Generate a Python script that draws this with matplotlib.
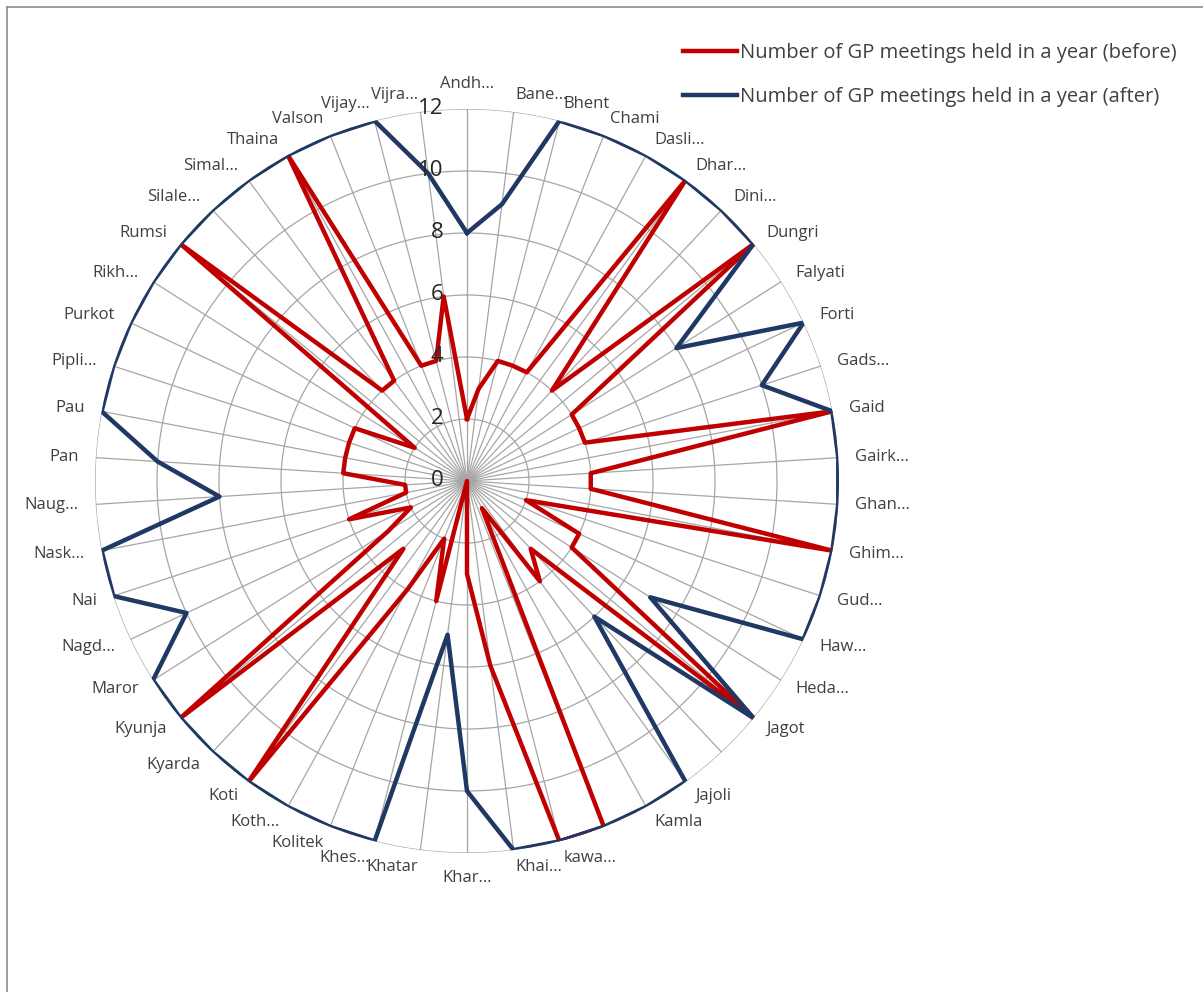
import numpy as np
import matplotlib
matplotlib.use("Agg")
import matplotlib.pyplot as plt
from matplotlib.lines import Line2D

plt.rcParams['font.family'] = ['Open Sans', 'DejaVu Sans']

# Gram panchayats (labels as truncated on the original chart, two are blank)
categories = ["Andh…", "Bane…", "Bhent", "Chami", "Dasli…", "Dhar…", "Dini…", "Dungri",
              "Falyati", "Forti", "Gads…", "Gaid", "Gairk…", "Ghan…", "Ghim…", "Gud…",
              "Haw…", "Heda…", "Jagot", "", "Jajoli", "Kamla", "", "kawa…", "Khai…",
              "Khar…", "Khatar", "Khes…", "Kolitek", "Koth…", "Koti", "Kyarda", "Kyunja",
              "Maror", "Nagd…", "Nai", "Nask…", "Naug…", "Pan", "Pau", "Pipli…", "Purkot",
              "Rikh…", "Rumsi", "Silale…", "Simal…", "Thaina", "Valson", "Vijay…", "Vijra…"]

meetings_before = [2, 3, 4, 4, 4, 12, 4, 12, 4, 4, 4, 12, 4, 4, 12, 2, 4, 4, 12, 3,
                   4, 1, 12, 12, 6, 3, 0, 4, 2, 4, 12, 3, 12, 3, 2, 4, 2, 2, 4, 4,
                   4, 4, 2, 12, 4, 4, 12, 4, 4, 6]
meetings_after = [8, 9, 12, 12, 12, 12, 12, 12, 8, 12, 10, 12, 12, 12, 12, 12, 12, 7, 12, 6,
                  12, 12, 12, 12, 12, 10, 5, 12, 12, 12, 12, 12, 12, 12, 10, 12, 12, 8, 10, 12,
                  12, 12, 12, 12, 12, 12, 12, 12, 12, 10]

series_names = ["Number of GP meetings held in a year (before)",
                "Number of GP meetings held in a year (after)"]
radial_ticks = [0, 2, 4, 6, 8, 10, 12]

RED = '#C00000'
BLUE = '#1F3864'
GRID = '#A6A6A6'
TEXT = '#404040'

n = len(categories)
theta = np.arange(n) * 2 * np.pi / n

fig = plt.figure(figsize=(12.03, 9.92), dpi=100)

# chart frame (left and top edges visible)
fig.add_artist(Line2D([7 / 1203, 7 / 1203], [0, 1 - 7 / 992], color='#8C8C8C', lw=1.2))
fig.add_artist(Line2D([7 / 1203, 1], [1 - 7 / 992, 1 - 7 / 992], color='#8C8C8C', lw=1.2))

cx, cy, rad = 467 / 1203, 1 - 481 / 992, 372
ax = fig.add_axes([cx - rad / 1203, cy - rad / 992, 2 * rad / 1203, 2 * rad / 992],
                  projection='polar')
ax.set_theta_zero_location('N')
ax.set_theta_direction(-1)
ax.set_ylim(0, 12)
ax.grid(False)
ax.spines['polar'].set_visible(False)
ax.set_xticks([])
ax.set_yticks([])
ax.patch.set_alpha(0)

# spokes and rings
for t in theta:
    ax.plot([t, t], [0, 12], color=GRID, lw=0.9, zorder=1)
ring_t = np.linspace(0, 2 * np.pi, 400)
for r in radial_ticks[1:]:
    ax.plot(ring_t, np.full_like(ring_t, r), color=GRID, lw=0.9, zorder=1)

# series
th_closed = np.append(theta, theta[0])
ax.plot(th_closed, meetings_before + meetings_before[:1], color=RED, lw=3.2, zorder=3)
ax.plot(th_closed, meetings_after + meetings_after[:1], color=BLUE, lw=3.2, zorder=4)

# radial tick labels along the top spoke
for r in radial_ticks:
    ax.annotate(str(r), xy=(0, r), xytext=(-17, 0), textcoords='offset points',
                ha='right', va='center', fontsize=16, color='#262626', zorder=5)

# category labels
for t, lab in zip(theta, categories):
    s = np.sin(t)
    if s > 0.01:
        ha = 'left'
    elif s < -0.01:
        ha = 'right'
    else:
        ha = 'center'
    va = 'center'
    if abs(s) < 0.01:
        va = 'bottom' if np.cos(t) > 0 else 'top'
    ax.text(t, 12.55, lab, ha=ha, va=va, fontsize=12, color=TEXT)

# legend
handles = [Line2D([], [], color=RED, lw=3.2), Line2D([], [], color=BLUE, lw=3.2)]
fig.legend(handles, series_names, loc='upper left', bbox_to_anchor=(683 / 1203, 1 - 43 / 992),
           frameon=False, fontsize=14.5, handlelength=2.7, handletextpad=0.12,
           labelspacing=1.2, labelcolor=TEXT, borderaxespad=0, borderpad=0)

fig.savefig("out.png", dpi=100)
